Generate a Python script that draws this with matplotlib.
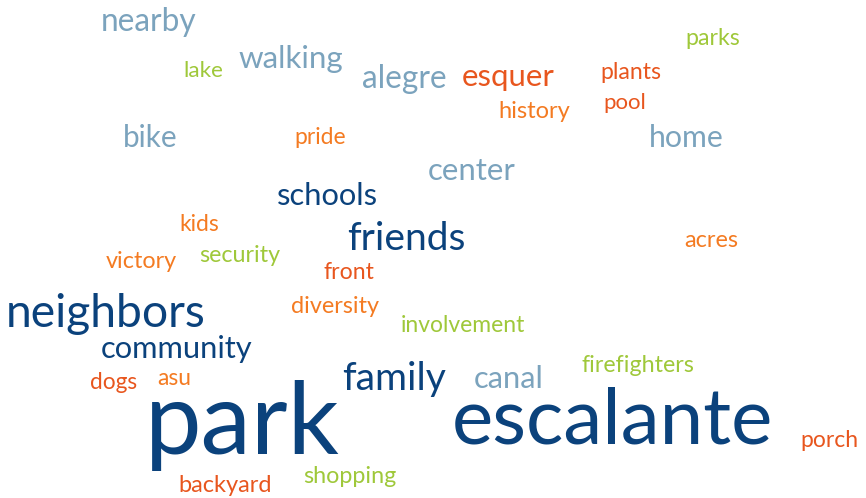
import matplotlib
matplotlib.use("Agg")
import matplotlib.pyplot as plt

# words of the cloud and their colour group
words = ["nearby", "walking", "lake", "alegre", "esquer", "plants", "parks", "pool",
         "history", "home", "bike", "pride", "center", "schools", "friends", "kids",
         "acres", "victory", "security", "front", "neighbors", "diversity",
         "involvement", "community", "family", "canal", "firefighters", "dogs", "asu",
         "park", "escalante", "porch", "shopping", "backyard"]
groups = ["light", "light", "lime", "light", "red", "red", "lime", "red",
          "orange", "light", "light", "orange", "light", "dark", "dark", "orange",
          "orange", "orange", "lime", "red", "dark", "orange",
          "lime", "dark", "dark", "light", "lime", "red", "orange",
          "dark", "dark", "red", "lime", "red"]

palette = {
    "dark": "#0b427c",
    "light": "#7ba3bd",
    "orange": "#f47b22",
    "red": "#e8561e",
    "lime": "#9fc83a",
}

# layout in pixels: left x, right x, baseline y
left = [101, 238, 183, 362, 462, 600, 685, 603, 498, 649, 123, 294, 428, 277, 347, 179,
        684, 106, 199, 324, 6, 291, 401, 101, 342, 474, 581, 90, 157, 145, 452, 800,
        303, 178]
right = [197, 343, 223, 447, 555, 661, 740, 646, 570, 724, 178, 346, 516, 378, 466, 219,
         738, 177, 280, 375, 207, 379, 526, 253, 446, 544, 694, 137, 191, 341, 774, 858,
         396, 272]
base = [31, 68, 77, 88, 86, 79, 45, 109, 118, 147, 147, 144, 180, 205, 250, 231, 247,
        268, 262, 279, 327, 313, 332, 358, 390, 388, 372, 389, 385, 454, 443, 447, 483,
        492]

fig = plt.figure(figsize=(8.66, 4.98), dpi=100)
ax = fig.add_axes([0, 0, 1, 1])
ax.set_xlim(0, 866)
ax.set_ylim(498, 0)
ax.axis("off")

renderer = fig.canvas.get_renderer()
for w, g, x0, x1, y in zip(words, groups, left, right, base):
    t = ax.text(x0, y, w, fontsize=20, family="Lato", color=palette[g],
                ha="left", va="baseline")
    width = t.get_window_extent(renderer).width
    t.set_fontsize(20 * (x1 - x0) / width)

fig.savefig("out.png", dpi=100, facecolor="white")
